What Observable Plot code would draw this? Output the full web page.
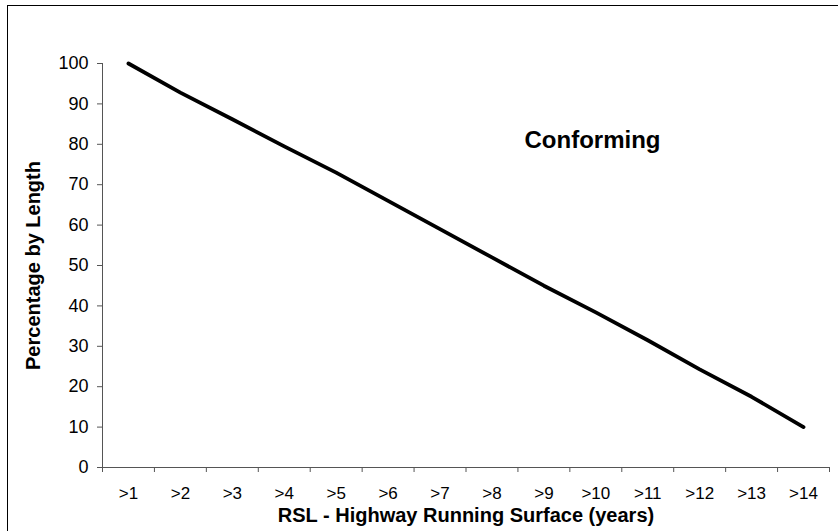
<!DOCTYPE html>
<html>
<head>
<meta charset="utf-8">
<script src="https://cdn.jsdelivr.net/npm/d3@7"></script>
<script src="https://cdn.jsdelivr.net/npm/@observablehq/plot@0.6"></script>
<style>
  html, body { margin: 0; padding: 0; background: #fff; overflow: hidden; }
  #wrap { position: relative; width: 838px; height: 531px; }
  #frame { position: absolute; left: 7px; top: 5px; width: 900px; height: 600px;
           border-left: 1px solid #000; border-top: 1px solid #000; pointer-events: none; }
  #chart svg { display: block; }
</style>
</head>
<body>
<div id="wrap"><div id="chart"></div><div id="frame"></div></div>
<script>
const categories = [">1", ">2", ">3", ">4", ">5", ">6", ">7", ">8", ">9", ">10", ">11", ">12", ">13", ">14"];
const conforming = [100, 92.8, 86.2, 79.5, 73, 66, 59, 52, 45, 38.4, 31.5, 24.3, 17.5, 10];
const yTicks = [0, 10, 20, 30, 40, 50, 60, 70, 80, 90, 100];
const xTitle = "RSL - Highway Running Surface (years)";
const yTitle = "Percentage by Length";
const seriesLabel = "Conforming";

const data = categories.map((c, i) => ({pos: i + 1, cat: c, value: conforming[i]}));
const boundaries = categories.map((c, i) => i + 0.5).concat([categories.length + 0.5]);

const axisColor = "#555";
const font = "Liberation Sans, Arial, sans-serif";

const chart = Plot.plot({
  width: 838,
  height: 531,
  marginLeft: 102,
  marginRight: 9,
  marginTop: 63,
  marginBottom: 64,
  style: {fontFamily: font, color: "#000", background: "transparent", overflow: "visible"},
  x: {domain: [0.5, categories.length + 0.5]},
  y: {domain: [0, 100]},
  marks: [
    Plot.axisY(yTicks, {tickSize: 5, tickPadding: 9, fontSize: 18, stroke: axisColor, fill: "#000", label: null}),
    Plot.axisX(data.map(d => d.pos), {tickSize: 0, tickPadding: 19, fontSize: 17, fill: "#000",
      tickFormat: p => categories[p - 1], label: null}),
    Plot.axisX(boundaries, {tickSize: 5, tickFormat: () => "", stroke: axisColor, label: null}),
    Plot.ruleX([0.5], {stroke: axisColor, strokeWidth: 1}),
    Plot.ruleY([0], {stroke: axisColor, strokeWidth: 1}),
    Plot.line(data, {x: "pos", y: "value", stroke: "#000", strokeWidth: 3.8, strokeLinejoin: "round"}),
    Plot.text([seriesLabel], {frameAnchor: "top-left", dx: 490, dy: 77, text: d => d,
      fontSize: 24, fontWeight: "bold", textAnchor: "middle", lineAnchor: "middle", fill: "#000"}),
    Plot.text([xTitle], {frameAnchor: "bottom", dy: 48, text: d => d,
      fontSize: 20, fontWeight: "bold", textAnchor: "middle", lineAnchor: "middle", fill: "#000"}),
    Plot.text([yTitle], {frameAnchor: "left", dx: -69, rotate: -90, text: d => d,
      fontSize: 20, fontWeight: "bold", textAnchor: "middle", lineAnchor: "middle", fill: "#000"})
  ]
});
document.getElementById("chart").appendChild(chart);
</script>
</body>
</html>
